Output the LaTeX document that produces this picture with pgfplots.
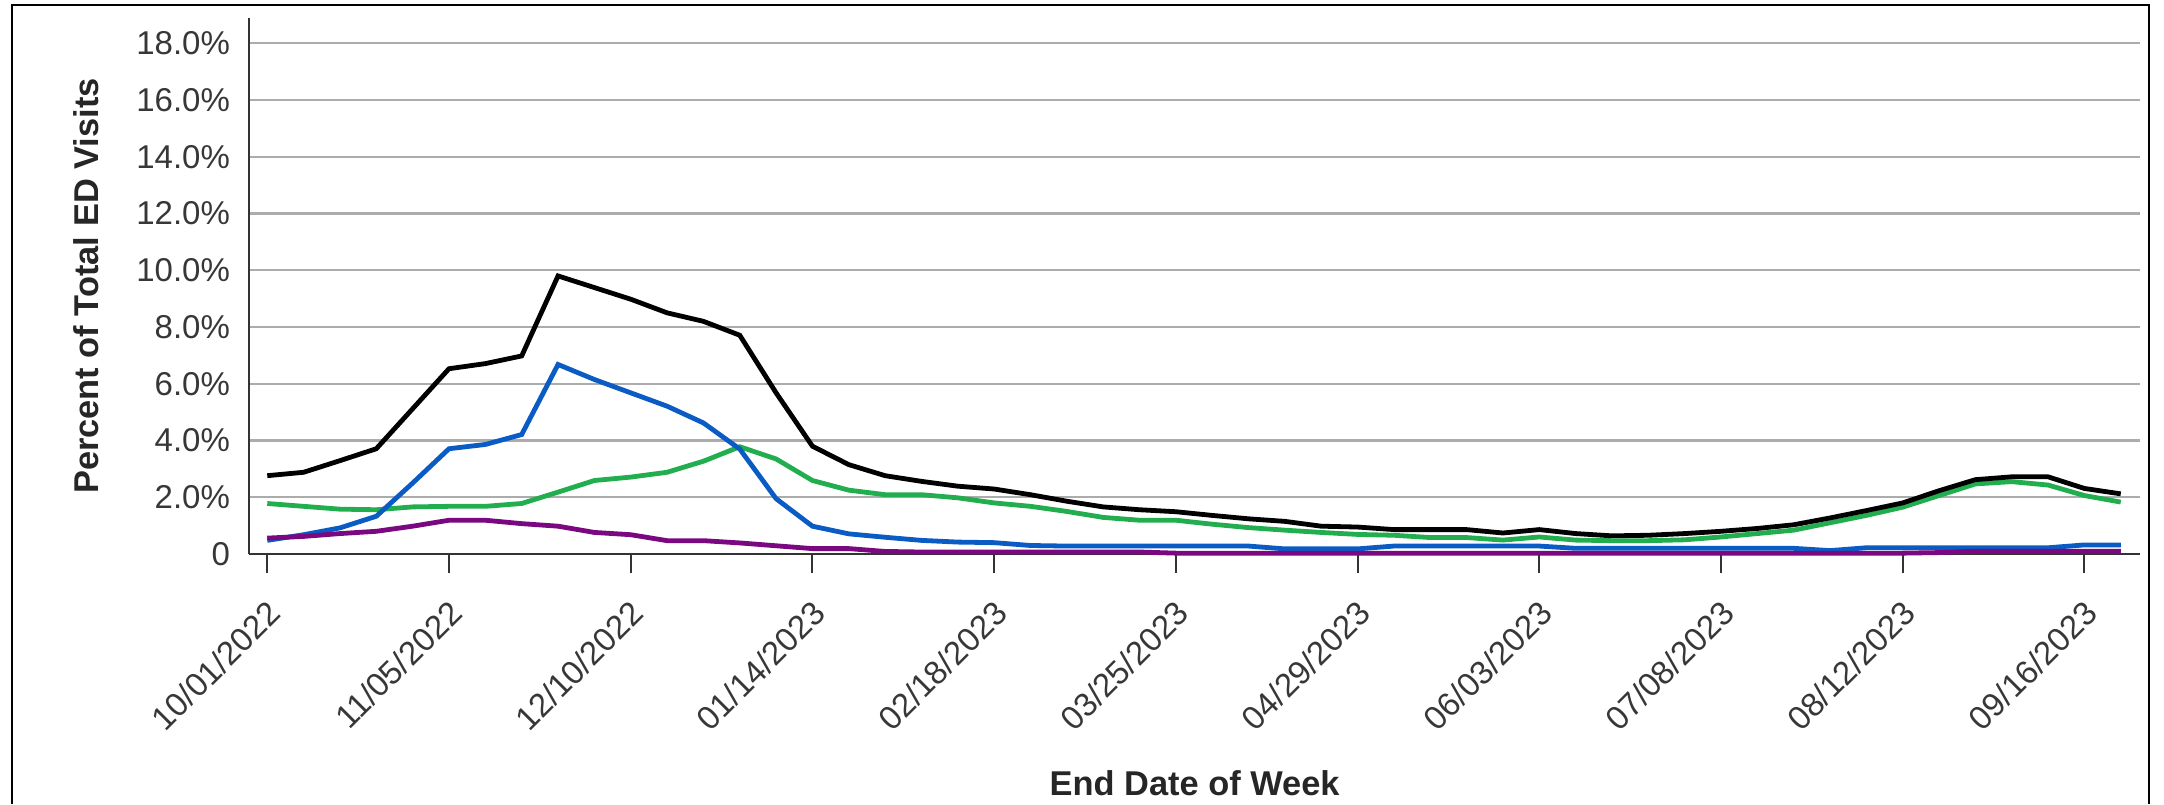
\documentclass[border=0pt]{standalone}
\usepackage{pgfplots}
\pgfplotsset{compat=1.18}
\usepackage{pgfplotstable}
\usepackage{fontspec}
\setmainfont{Liberation Sans}
\definecolor{cblue}{RGB}{10,92,196}
\definecolor{cgreen}{RGB}{34,174,78}
\definecolor{cpurple}{RGB}{122,8,128}
\definecolor{cgrid}{RGB}{172,172,172}
\definecolor{ctext}{RGB}{55,55,55}

\pgfplotstableread{
w  black blue green purple
0  2.76  0.48 1.78 0.56
1  2.88  0.68 1.68 0.62
2  3.29  0.92 1.58 0.72
3  3.71  1.33 1.56 0.80
4  5.12  2.50 1.66 0.98
5  6.53  3.71 1.68 1.19
6  6.71  3.86 1.68 1.19
7  6.98  4.21 1.78 1.07
8  9.80  6.68 2.18 0.98
9  9.39  6.15 2.59 0.76
10 8.98  5.68 2.71 0.68
11 8.50  5.21 2.88 0.47
12 8.20  4.62 3.27 0.47
13 7.71  3.70 3.78 0.39
14 5.68  1.95 3.35 0.29
15 3.80  0.98 2.59 0.19
16 3.15  0.71 2.25 0.19
17 2.76  0.59 2.09 0.09
18 2.56  0.48 2.09 0.07
19 2.39  0.42 1.98 0.07
20 2.29  0.40 1.80 0.07
21 2.09  0.30 1.68 0.07
22 1.86  0.28 1.50 0.07
23 1.66  0.28 1.29 0.07
24 1.56  0.28 1.19 0.07
25 1.49  0.28 1.19 0.03
26 1.36  0.28 1.05 0.03
27 1.24  0.28 0.93 0.03
28 1.15  0.18 0.84 0.03
29 0.98  0.18 0.76 0.03
30 0.95  0.18 0.69 0.03
31 0.86  0.28 0.66 0.03
32 0.86  0.28 0.58 0.03
33 0.86  0.28 0.58 0.03
34 0.74  0.28 0.49 0.03
35 0.86  0.28 0.60 0.03
36 0.72  0.20 0.49 0.03
37 0.64  0.20 0.47 0.03
38 0.66  0.20 0.47 0.03
39 0.72  0.20 0.50 0.03
40 0.80  0.20 0.60 0.03
41 0.90  0.20 0.72 0.03
42 1.03  0.20 0.84 0.03
43 1.27  0.12 1.10 0.03
44 1.53  0.22 1.36 0.03
45 1.80  0.22 1.65 0.03
46 2.23  0.22 2.06 0.05
47 2.62  0.22 2.47 0.10
48 2.72  0.22 2.55 0.10
49 2.72  0.22 2.43 0.10
50 2.31  0.32 2.06 0.10
51 2.12  0.32 1.83 0.10
}\datatable

\begin{document}
\begin{tikzpicture}
\path[use as bounding box] (0,0) rectangle (1082pt,402pt);
\draw[line width=1pt, black] (5.85pt,0) -- (5.85pt,399.5pt) -- (1074.5pt,399.5pt) -- (1074.5pt,0);
\begin{axis}[
  at={(124.65pt,125pt)}, anchor=south west,
  scale only axis, width=945.35pt, height=267.85pt,
  xmin=-0.495, xmax=51.53, ymin=0, ymax=18.88,
  axis lines=left,
  axis line style={-, draw=black!80, line width=1pt},
  xtick={0,5,...,50},
  xticklabels={10/01/2022,11/05/2022,12/10/2022,01/14/2023,02/18/2023,03/25/2023,04/29/2023,06/03/2023,07/08/2023,08/12/2023,09/16/2023},
  ytick={0,2,...,18},
  yticklabels={0,2.0\%,4.0\%,6.0\%,8.0\%,10.0\%,12.0\%,14.0\%,16.0\%,18.0\%},
  ymajorgrids,
  grid style={color=cgrid, line width=1.2pt},
  tick align=outside,
  major tick length=9.5pt,
  xtick style={draw=black!80, line width=1pt},
  ytick style={draw=none},
  /pgf/number format/assume math mode=true,
  ticklabel style={font=\fontsize{16.5}{20}\selectfont, text=ctext},
  yticklabel style={anchor=east, inner sep=0pt, xshift=0pt},
  xticklabel style={rotate=45, anchor=east, inner sep=0pt, xshift=2.5pt, yshift=-2.5pt},
  xticklabel shift=17pt,
  xlabel={End Date of Week},
  ylabel={Percent of Total ED Visits},
  label style={font=\bfseries\fontsize{17.2}{20}\selectfont, text=black!85},
  xlabel style={at={(axis description cs:0.5,0)}, anchor=base, yshift=-120.5pt},
  ylabel style={at={(axis description cs:0,0.5)}, anchor=center, rotate=0, yshift=81.6pt},
  clip=false,
]
\addplot[color=cgreen, line width=2.4pt] table[x=w, y=green] {\datatable};
\addplot[color=cblue, line width=2.4pt] table[x=w, y=blue] {\datatable};
\addplot[color=cpurple, line width=2.4pt] table[x=w, y=purple] {\datatable};
\addplot[color=black, line width=2.4pt] table[x=w, y=black] {\datatable};
\end{axis}
\end{tikzpicture}
\end{document}
